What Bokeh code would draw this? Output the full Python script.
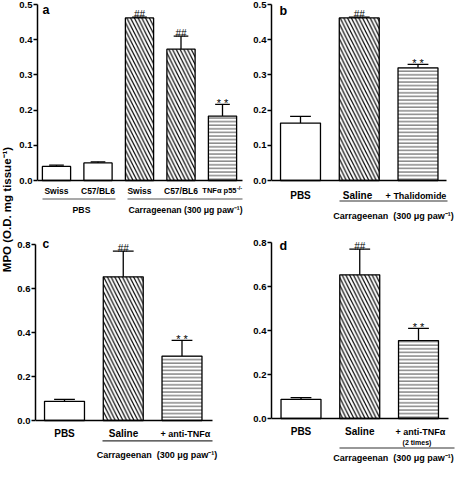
import math
from bokeh.plotting import figure
from bokeh.layouts import row, column
from bokeh.models import Range1d, FixedTicker, NumeralTickFormatter, ColumnDataSource
from bokeh.core.properties import value
from bokeh.embed import file_html
from bokeh.resources import INLINE

FONT = value("Liberation Sans")

# ---------------- data ----------------
a_groups = ["Swiss", "C57/BL6", "Swiss", "C57/BL6", "TNFα p55"]
a_means = [0.040, 0.050, 0.462, 0.373, 0.183]
a_sems = [0.0035, 0.003, 0.002, 0.037, 0.033]
a_kinds = ["open", "open", "diag", "diag", "horiz"]
a_marks = ["", "", "##", "##", "* *"]

b_groups = ["PBS", "Saline", "+ Thalidomide"]
b_means = [0.163, 0.462, 0.320]
b_sems = [0.019, 0.002, 0.010]
b_kinds = ["open", "diag", "horiz"]
b_marks = ["", "##", "* *"]

c_groups = ["PBS", "Saline", "+ anti-TNFα"]
c_means = [0.087, 0.653, 0.293]
c_sems = [0.009, 0.117, 0.071]
c_kinds = ["open", "diag", "horiz"]
c_marks = ["", "##", "* *"]

d_groups = ["PBS", "Saline", "+ anti-TNFα"]
d_means = [0.087, 0.653, 0.354]
d_sems = [0.008, 0.117, 0.056]
d_kinds = ["open", "diag", "horiz"]
d_marks = ["", "##", "* *"]

top_ticks = [0.0, 0.1, 0.2, 0.3, 0.4, 0.5]
bottom_ticks = [0.0, 0.2, 0.4, 0.6, 0.8]

carr_text = "Carrageenan (300 μg paw⁻¹)"
carr_text2 = "Carrageenan\u00a0 (300 μg paw⁻¹)"
y_title = "MPO (O.D. mg tissue⁻¹)"

HATCH = {"open": (" ", 6, "black"),
         "diag": ("\\", 7.5, "black"),
         "horiz": ("-", 3.6, "#6a6a6a")}


def make_panel(fig_w, fig_h, border_left, px_left, px_right, px_x0, px_step,
               zero_px, fig_top, fig_bottom, y_scale, ticks, means, sems,
               kinds, marks, bar_w, base_end_px):
    def dx(px):
        return (px - px_x0) / px_step

    def dy(off):  # pixels below zero line -> data units
        return -off / y_scale

    xr = Range1d(dx(px_left), dx(px_right))
    yr = Range1d(dy(fig_bottom - zero_px), dy(-(zero_px - fig_top)))
    p = figure(width=fig_w, height=fig_h, x_range=xr, y_range=yr,
               output_backend="svg", toolbar_location=None,
               x_axis_location=None,
               min_border_left=border_left, min_border_right=0,
               min_border_top=0, min_border_bottom=0)
    p.grid.visible = False
    p.outline_line_color = None
    p.background_fill_color = "white"
    p.border_fill_color = "white"

    ax = p.yaxis[0]
    ax.ticker = FixedTicker(ticks=ticks, minor_ticks=[])
    ax.formatter = NumeralTickFormatter(format="0.0")
    ax.bounds = (0, ticks[-1])
    ax.axis_line_width = 1.5
    ax.major_tick_line_width = 1.5
    ax.major_tick_in = 0
    ax.major_tick_out = 4
    ax.minor_tick_out = 0
    ax.major_label_standoff = 1
    ax.major_label_text_font = "Liberation Sans"
    ax.major_label_text_font_style = "bold"
    ax.major_label_text_font_size = "9.5px"
    ax.major_label_text_color = "black"

    xs = list(range(len(means)))
    src = ColumnDataSource(dict(
        x=xs, top=means,
        hp=[HATCH[k][0] for k in kinds],
        hs=[HATCH[k][1] for k in kinds],
        hc=[HATCH[k][2] for k in kinds]))
    p.vbar(x="x", top="top", bottom=0, width=bar_w, source=src,
           fill_color="white", line_color="black", line_width=1.3,
           hatch_pattern="hp", hatch_scale="hs", hatch_color="hc",
           hatch_weight=1.2)

    tops = [m + s for m, s in zip(means, sems)]
    p.segment(x0=xs, y0=means, x1=xs, y1=tops, line_color="black", line_width=1.3)
    cw = bar_w * 0.26
    p.segment(x0=[x - cw for x in xs], y0=tops, x1=[x + cw for x in xs], y1=tops,
              line_color="black", line_width=1.3)

    # baseline (x axis line)
    p.segment(x0=[xr.start], y0=[0], x1=[dx(base_end_px)], y1=[0],
              line_color="black", line_width=1.5)

    # significance marks
    hx = [x for x, m in zip(xs, marks) if m == "##"]
    hy = [t + 2.5 / y_scale for t, m in zip(tops, marks) if m == "##"]
    p.text(x=hx, y=hy, text=["##"] * len(hx), text_font=FONT,
           text_font_size=value("10px"), text_align="center",
           text_baseline="alphabetic", text_color="black")
    sx = [x for x, m in zip(xs, marks) if m and m != "##"]
    sy = [t + 1.0 / y_scale for t, m in zip(tops, marks) if m and m != "##"]
    st = [m for m in marks if m and m != "##"]
    p.text(x=sx, y=sy, text=st, text_font=FONT,
           text_font_size=value("11px"), text_align="center",
           text_baseline="alphabetic", text_color="black")
    return p, dx, dy


# ---------------- panel a ----------------
fa, ax_, ay_ = make_panel(232, 238, 23, 45, 254, 64, 41.5, 188, 8, 246, 352,
                          top_ticks, a_means, a_sems, a_kinds, a_marks, 0.68, 250)
fa.text(x=[0, 1, 2, 3], y=[ay_(10)] * 4, text=a_groups[:4], text_font=FONT,
        text_font_style="bold", text_font_size=value("8.5px"),
        text_align="center", text_baseline="middle")
fa.text(x=[ax_(244)], y=[ay_(10)], text=[a_groups[4]], text_font=FONT,
        text_font_style="bold", text_font_size=value("7.5px"),
        text_align="right", text_baseline="middle")
fa.text(x=[ax_(244.5)], y=[ay_(7.5)], text=["-/-"], text_font=FONT,
        text_font_style="bold", text_font_size=value("5.5px"),
        text_align="left", text_baseline="middle")
fa.segment(x0=[ax_(50), ax_(135)], y0=[ay_(18.5)] * 2, x1=[ax_(123), ax_(250)],
           y1=[ay_(18.5)] * 2, line_color="#555555", line_width=1.2)
fa.text(x=[ax_(89), ax_(193)], y=[ay_(29)] * 2, text=["PBS", carr_text],
        text_font=FONT, text_font_style="bold", text_font_size=value("8.7px"),
        text_align="center", text_baseline="middle")
fa.text(x=[ax_(50)], y=[ay_(-176 + 5.7)], text=["a"], text_font=FONT,
        text_font_style="bold", text_font_size=value("12.5px"),
        text_align="left", text_baseline="alphabetic")

# ---------------- panel b ----------------
fb, bx_, by_ = make_panel(210, 238, 25, 279, 464, 308, 58.75, 188, 8, 246, 352,
                          top_ticks, b_means, b_sems, b_kinds, b_marks, 0.68, 454)
fb.text(x=[0, bx_(365)], y=[by_(15)] * 2, text=b_groups[:2], text_font=FONT,
        text_font_style="bold", text_font_size=value("10px"),
        text_align="center", text_baseline="middle")
fb.text(x=[bx_(423.5)], y=[by_(15)], text=[b_groups[2]], text_font=FONT,
        text_font_style="bold", text_font_size=value("9px"),
        text_align="center", text_baseline="middle")
fb.segment(x0=[bx_(347)], y0=[by_(20.5)], x1=[bx_(455)], y1=[by_(20.5)],
           line_color="#333333", line_width=1.2)
fb.text(x=[bx_(401)], y=[by_(35)], text=[carr_text2], text_font=FONT,
        text_font_style="bold", text_font_size=value("9px"),
        text_align="center", text_baseline="middle")
fb.text(x=[bx_(287)], y=[by_(-176 + 6.7)], text=["b"], text_font=FONT,
        text_font_style="bold", text_font_size=value("12.5px"),
        text_align="left", text_baseline="alphabetic")

# ---------------- panel c ----------------
fc, cx_, cy_ = make_panel(232, 225, 21, 43, 254, 72, 58.75, 428, 246, 471, 220,
                          bottom_ticks, c_means, c_sems, c_kinds, c_marks, 0.68, 220)
fc.text(x=[0, cx_(131)], y=[cy_(13)] * 2, text=c_groups[:2], text_font=FONT,
        text_font_style="bold", text_font_size=value("10px"),
        text_align="center", text_baseline="middle")
fc.text(x=[cx_(193)], y=[cy_(13)], text=[c_groups[2]], text_font=FONT,
        text_font_style="bold", text_font_size=value("9px"),
        text_align="center", text_baseline="middle")
fc.segment(x0=[cx_(110)], y0=[cy_(20.3)], x1=[cx_(220)], y1=[cy_(20.3)],
           line_color="#333333", line_width=1.2)
fc.text(x=[cx_(164.5)], y=[cy_(34)], text=[carr_text2], text_font=FONT,
        text_font_style="bold", text_font_size=value("9px"),
        text_align="center", text_baseline="middle")
fc.text(x=[cx_(50)], y=[cy_(-176 - 1)], text=["c"], text_font=FONT,
        text_font_style="bold", text_font_size=value("12px"),
        text_align="left", text_baseline="alphabetic")

# ---------------- panel d ----------------
fd, dx_, dy_ = make_panel(210, 225, 25, 279, 464, 308.5, 58.75, 426, 246, 471, 220,
                          bottom_ticks, d_means, d_sems, d_kinds, d_marks, 0.68, 456)
fd.text(x=[0, dx_(367.3)], y=[dy_(13.4)] * 2, text=d_groups[:2], text_font=FONT,
        text_font_style="bold", text_font_size=value("10px"),
        text_align="center", text_baseline="middle")
fd.text(x=[dx_(428)], y=[dy_(13.4)], text=[d_groups[2]], text_font=FONT,
        text_font_style="bold", text_font_size=value("9px"),
        text_align="center", text_baseline="middle")
fd.text(x=[dx_(424.5)], y=[dy_(24)], text=["(2 times)"], text_font=FONT,
        text_font_style="bold", text_font_size=value("7px"),
        text_align="center", text_baseline="middle")
fd.segment(x0=[dx_(347)], y0=[dy_(29.5)], x1=[dx_(462)], y1=[dy_(29.5)],
           line_color="#333333", line_width=1.2)
fd.text(x=[dx_(401)], y=[dy_(39.5)], text=[carr_text2], text_font=FONT,
        text_font_style="bold", text_font_size=value("9px"),
        text_align="center", text_baseline="middle")
fd.text(x=[dx_(287)], y=[dy_(-176 + 3.3)], text=["d"], text_font=FONT,
        text_font_style="bold", text_font_size=value("12.5px"),
        text_align="left", text_baseline="alphabetic")

# ---------------- shared y title ----------------
fl = figure(width=14, height=463, x_range=Range1d(0, 14), y_range=Range1d(0, 463),
            output_backend="svg", toolbar_location=None,
            x_axis_location=None, y_axis_location=None,
            min_border_left=0, min_border_right=0, min_border_top=0, min_border_bottom=0)
fl.grid.visible = False
fl.outline_line_color = None
fl.text(x=[6], y=[254], text=[y_title], angle=math.pi / 2,
        text_font=FONT, text_font_style="bold", text_font_size=value("11.5px"),
        text_align="center", text_baseline="middle")

layout = row(fl, column(row(fa, fb), row(fc, fd)))
open("out.html", "w").write(file_html(layout, INLINE))
